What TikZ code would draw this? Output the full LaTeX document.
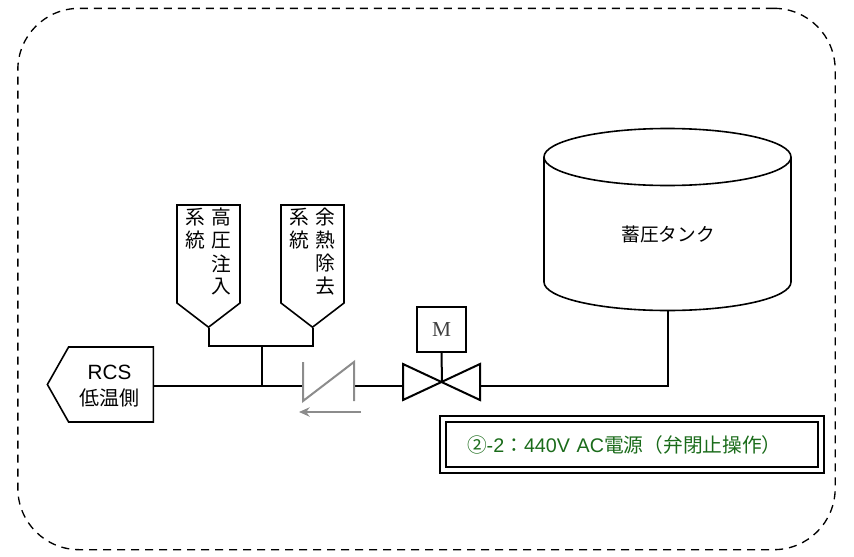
\documentclass[tikz,border=0pt]{standalone}
\usepackage{fontspec}
\setmainfont{Liberation Sans}
\newfontfamily\cjk{Noto Sans CJK JP}
\newfontfamily\serifm{Liberation Serif}
\usetikzlibrary{shapes.symbols,arrows.meta}
\definecolor{checkgray}{HTML}{8C8C8C}
\definecolor{labelgreen}{HTML}{1A6B1A}
\tikzset{
  pipe/.style={draw=black,line width=1.5pt},
  checkline/.style={draw=checkgray,line width=1.5pt},
  tankline/.style={draw=black,line width=1.2pt},
  feed/.style={draw,signal,signal to=south,signal pointer angle=105,line width=1.2pt,
    minimum width=47.25pt,minimum height=88.5pt,inner sep=0pt,font=\cjk\fontsize{14.8}{16.5}\selectfont},
}
\newcommand{\twocol}[6]{\raisebox{-1.5pt}{\setlength{\tabcolsep}{2.35pt}\begin{tabular}[c]{cc}#1&#3\\#2&#4\\&#5\\&#6\end{tabular}}}
\begin{document}
\begin{tikzpicture}[x=0.75pt,y=-0.75pt]
  \useasboundingbox (0,0) rectangle (854,557);
  \node (area) [draw,dashed,dash pattern=on 6pt off 4.5pt,line width=1pt,rounded corners=46pt,
    minimum width=613pt,minimum height=406pt] at (426.5,279) {};
  \node (hpi) [feed] at (208.5,254) {\twocol{系}{統}{高}{圧}{注}{入}};
  \node (rhr) [feed] at (312.5,254) {\twocol{系}{統}{余}{熱}{除}{去}};
  \node (rcs) [draw,signal,signal to=west,signal pointer angle=121,line width=1.2pt,
    minimum width=79.5pt,minimum height=56.25pt,inner sep=0pt] at (111,384.5) {};
  \node (rcstext) [align=center,inner sep=0pt,font=\fontsize{15.5}{20}\selectfont] at (109.5,386)
    {RCS\\{\cjk\fontsize{15}{20}\selectfont 低温側}};
  \draw[tankline] (544,157) arc[start angle=180,end angle=540,x radius=123.5,y radius=28.5];
  \draw[tankline] (544,157) -- (544,282) arc[start angle=180,end angle=0,x radius=123.5,y radius=28.5] -- (791,157);
  \coordinate (tankout) at (668,310.5);
  \node (tanktext) [inner sep=0pt,font=\cjk\fontsize{14}{16}\selectfont] at (668,234) {蓄圧タンク};
  \node (motor) [draw,line width=1.3pt,minimum width=36.75pt,minimum height=33.75pt,inner sep=0pt,
    text=black!75,font=\serifm\fontsize{16}{18}\selectfont] at (441.5,329.5) {M};
  \node (note) [draw,double,double distance=3.6pt,line width=1.1pt,
    minimum width=283.5pt,minimum height=38.25pt,inner xsep=18pt,inner ysep=0pt,
    text width=247.5pt,align=left,text=labelgreen,
    font=\cjk\fontsize{14.8}{18}\selectfont] at (632,444.5)
    {②{\fontspec{Liberation Sans}-2}：{\fontspec{Liberation Sans}440V AC}電源（弁閉止操作）};
  \coordinate (hub) at (262,346);
  \coordinate (tee) at (262,386);
  \coordinate (rcsout) at (154,386);
  \coordinate (chkin) at (303,386);
  \coordinate (chkout) at (354,386);
  \coordinate (vlvin) at (403,386);
  \coordinate (vlvout) at (480,386);
  \coordinate (vlvmid) at (442,382);
  \draw[pipe] (hpi.south) |- (hub);
  \draw[pipe] (rhr.south) |- (hub);
  \draw[pipe] (vlvout) -| (tankout);
  \path[pipe]
    (hub) edge (tee)
    (rcsout) edge (chkin)
    (chkout) edge (vlvin)
    (motor.south) edge (vlvmid);
  \draw[line width=1.5pt] (403,364) -- (480,400) -- (480,364) -- (403,400) -- cycle;
  \draw[checkline] (303,362) -- (303,401) -- (354,362) -- (354,401);
  \draw[checkline,-{Stealth[length=8pt,width=7pt]}] (361,412) -- (299,412);
\end{tikzpicture}
\end{document}
